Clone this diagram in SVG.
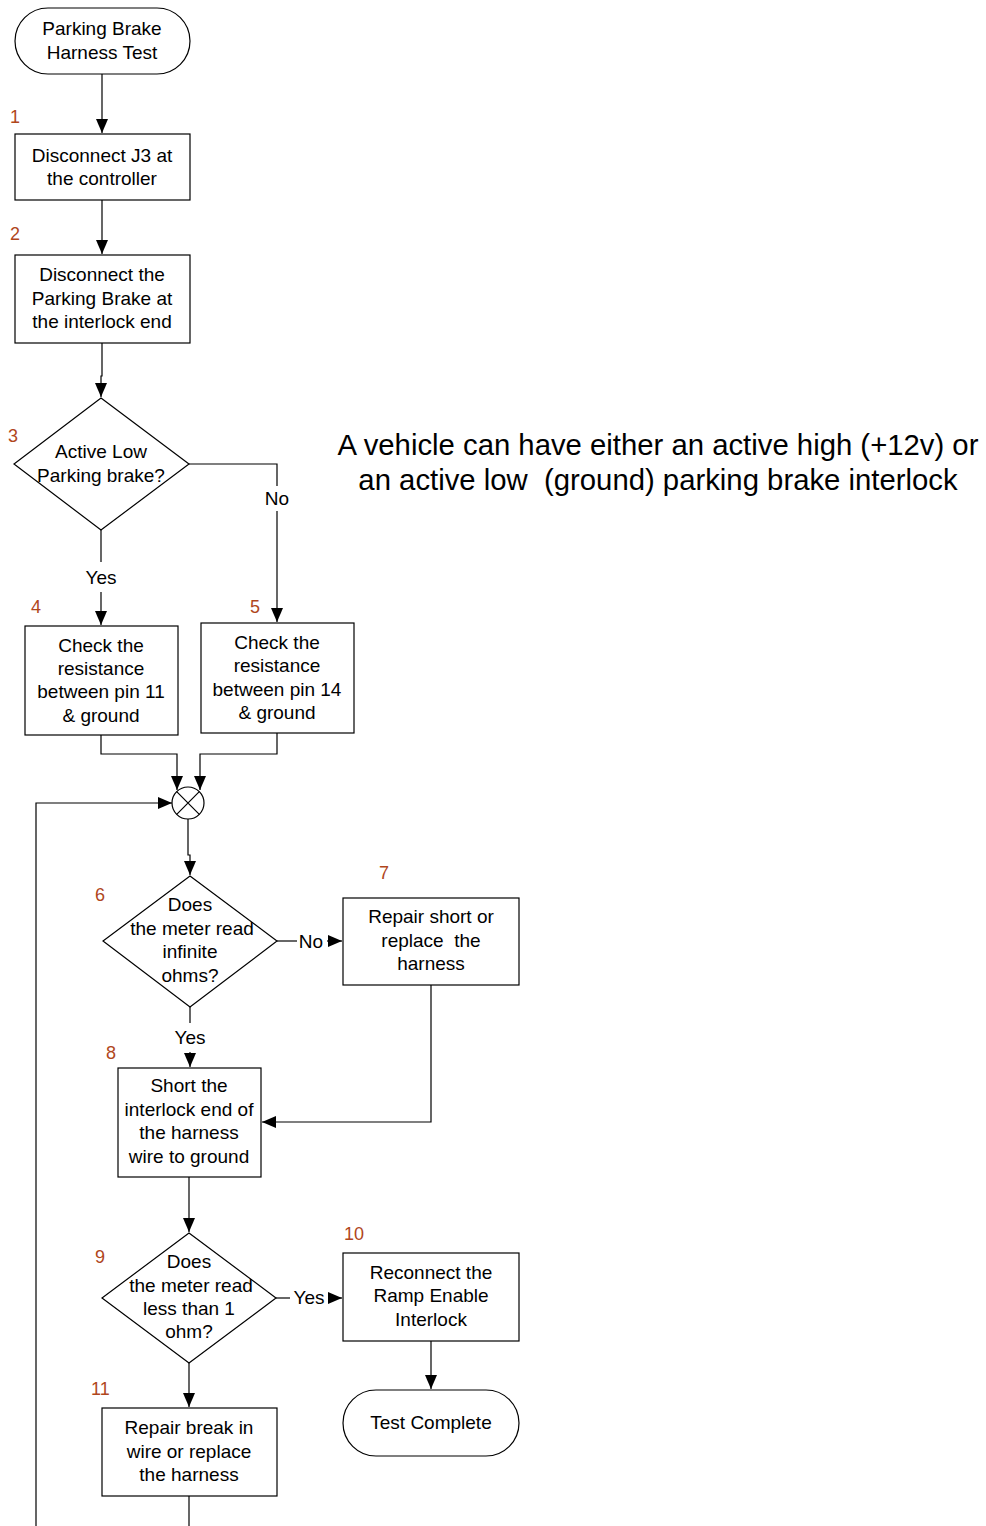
<svg xmlns="http://www.w3.org/2000/svg" width="986" height="1526" viewBox="0 0 986 1526">
  <style>
    .shape { fill: #ffffff; stroke: #000000; stroke-width: 1.2; }
    .wire { fill: none; stroke: #000000; stroke-width: 1.2; }
    .t { font-family: "Liberation Sans", Arial, sans-serif; font-size: 19px; fill: #000000; text-anchor: middle; white-space: pre; }
    .num { font-family: "Liberation Sans", Arial, sans-serif; font-size: 18px; fill: #b0461c; }
    .note { font-family: "Liberation Sans", Arial, sans-serif; font-size: 29.3px; fill: #000000; text-anchor: middle; white-space: pre; }
  </style>
  <defs>
    <marker id="arrow" viewBox="0 0 14 12" refX="14" refY="6" markerWidth="14" markerHeight="12" markerUnits="userSpaceOnUse" orient="auto">
      <path d="M0,0 L14,6 L0,12 Z" fill="#000000"/>
    </marker>
  </defs>

  <rect width="986" height="1526" fill="#ffffff"/>

  <!-- connectors -->
  <g id="connectors">
    <path class="wire" d="M102,74 V133" marker-end="url(#arrow)"/>
    <path class="wire" d="M102,200 V254" marker-end="url(#arrow)"/>
    <path class="wire" d="M102,343 V376 H101 V397" marker-end="url(#arrow)"/>
    <!-- decision 3 : No -->
    <path class="wire" d="M189,464 H277 V486"/>
    <path class="wire" d="M277,511 V622" marker-end="url(#arrow)"/>
    <!-- decision 3 : Yes -->
    <path class="wire" d="M101,530 V562"/>
    <path class="wire" d="M101,592 V625" marker-end="url(#arrow)"/>
    <!-- merge into junction -->
    <path class="wire" d="M101,735 V754 H177 V790" marker-end="url(#arrow)"/>
    <path class="wire" d="M277,733 V754 H200 V790" marker-end="url(#arrow)"/>
    <path class="wire" d="M36,1526 V803 H172" marker-end="url(#arrow)"/>
    <path class="wire" d="M188,819 V855 H190 V875" marker-end="url(#arrow)"/>
    <!-- decision 6 : No -->
    <path class="wire" d="M277,941 H297"/>
    <path class="wire" d="M327,941 H342" marker-end="url(#arrow)"/>
    <!-- decision 6 : Yes -->
    <path class="wire" d="M190,1007 V1023"/>
    <path class="wire" d="M190,1052 V1067" marker-end="url(#arrow)"/>
    <path class="wire" d="M431,985 V1122 H262" marker-end="url(#arrow)"/>
    <path class="wire" d="M189,1177 V1232" marker-end="url(#arrow)"/>
    <!-- decision 9 : Yes -->
    <path class="wire" d="M276,1298 H290"/>
    <path class="wire" d="M329,1298 H342" marker-end="url(#arrow)"/>
    <path class="wire" d="M431,1341 V1389" marker-end="url(#arrow)"/>
    <!-- decision 9 : No -->
    <path class="wire" d="M189,1363 V1407" marker-end="url(#arrow)"/>
    <path class="wire" d="M189,1496 V1526"/>
    <!-- branch labels -->
    <text class="t" x="277" y="505">No</text>
    <text class="t" x="101" y="584">Yes</text>
    <text class="t" x="311" y="948">No</text>
    <text class="t" x="190" y="1044">Yes</text>
    <text class="t" x="309" y="1304">Yes</text>
  </g>

  <g id="start">
    <rect class="shape" x="15" y="8" width="175" height="66" rx="33" ry="33"/>
    <text class="t" x="102" y="35">Parking Brake</text>
    <text class="t" x="102" y="59">Harness Test</text>
  </g>

  <g id="step1">
    <text class="num" x="10" y="123">1</text>
    <rect class="shape" x="15" y="134" width="175" height="66"/>
    <text class="t" x="102" y="162">Disconnect J3 at</text>
    <text class="t" x="102" y="185">the controller</text>
  </g>

  <g id="step2">
    <text class="num" x="10" y="240">2</text>
    <rect class="shape" x="15" y="255" width="175" height="88"/>
    <text class="t" x="102" y="281">Disconnect the</text>
    <text class="t" x="102" y="305">Parking Brake at</text>
    <text class="t" x="102" y="328">the interlock end</text>
  </g>

  <g id="step3">
    <text class="num" x="8" y="442">3</text>
    <polygon class="shape" points="101,398 189,464 101,530 14,464"/>
    <text class="t" x="101" y="458">Active Low</text>
    <text class="t" x="101" y="482">Parking brake?</text>
  </g>

  <g id="step4">
    <text class="num" x="31" y="613">4</text>
    <rect class="shape" x="25" y="626" width="153" height="109"/>
    <text class="t" x="101" y="652">Check the</text>
    <text class="t" x="101" y="675">resistance</text>
    <text class="t" x="101" y="698">between pin 11</text>
    <text class="t" x="101" y="722">&amp; ground</text>
  </g>

  <g id="step5">
    <text class="num" x="250" y="613">5</text>
    <rect class="shape" x="201" y="623" width="153" height="110"/>
    <text class="t" x="277" y="649">Check the</text>
    <text class="t" x="277" y="672">resistance</text>
    <text class="t" x="277" y="696">between pin 14</text>
    <text class="t" x="277" y="719">&amp; ground</text>
  </g>

  <g id="junction">
    <circle class="shape" cx="188" cy="803" r="16"/>
    <path class="wire" d="M176.7,791.7 L199.3,814.3 M199.3,791.7 L176.7,814.3"/>
  </g>

  <g id="step6">
    <text class="num" x="95" y="901">6</text>
    <polygon class="shape" points="190,876 277,941 190,1007 103,941"/>
    <text class="t" x="190" y="911">Does</text>
    <text class="t" x="192" y="935">the meter read</text>
    <text class="t" x="190" y="958">infinite</text>
    <text class="t" x="190" y="982">ohms?</text>
  </g>

  <g id="step7">
    <text class="num" x="379" y="879">7</text>
    <rect class="shape" x="343" y="898" width="176" height="87"/>
    <text class="t" x="431" y="923">Repair short or</text>
    <text class="t" x="431" y="947" xml:space="preserve">replace  the</text>
    <text class="t" x="431" y="970">harness</text>
  </g>

  <g id="step8">
    <text class="num" x="106" y="1059">8</text>
    <rect class="shape" x="118" y="1068" width="143" height="109"/>
    <text class="t" x="189" y="1092">Short the</text>
    <text class="t" x="189" y="1116">interlock end of</text>
    <text class="t" x="189" y="1139">the harness</text>
    <text class="t" x="189" y="1163">wire to ground</text>
  </g>

  <g id="step9">
    <text class="num" x="95" y="1263">9</text>
    <polygon class="shape" points="189,1233 276,1298 189,1363 102,1298"/>
    <text class="t" x="189" y="1268">Does</text>
    <text class="t" x="191" y="1292">the meter read</text>
    <text class="t" x="189" y="1315">less than 1</text>
    <text class="t" x="189" y="1338">ohm?</text>
  </g>

  <g id="step10">
    <text class="num" x="344" y="1240">10</text>
    <rect class="shape" x="343" y="1253" width="176" height="88"/>
    <text class="t" x="431" y="1279">Reconnect the</text>
    <text class="t" x="431" y="1302">Ramp Enable</text>
    <text class="t" x="431" y="1326">Interlock</text>
  </g>

  <g id="finish">
    <rect class="shape" x="343" y="1390" width="176" height="66" rx="33" ry="33"/>
    <text class="t" x="431" y="1429">Test Complete</text>
  </g>

  <g id="step11">
    <text class="num" x="91" y="1395">11</text>
    <rect class="shape" x="102" y="1408" width="175" height="88"/>
    <text class="t" x="189" y="1434">Repair break in</text>
    <text class="t" x="189" y="1458">wire or replace</text>
    <text class="t" x="189" y="1481">the harness</text>
  </g>

  <g id="note">
    <text class="note" x="658" y="455">A vehicle can have either an active high (+12v) or</text>
    <text class="note" x="658" y="490" xml:space="preserve">an active low  (ground) parking brake interlock</text>
  </g>
</svg>
